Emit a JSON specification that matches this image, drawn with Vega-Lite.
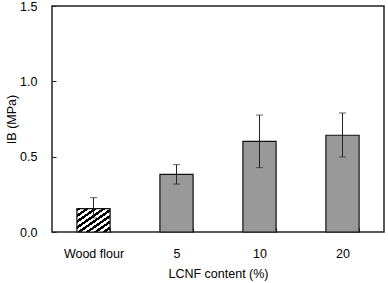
{
  "$schema": "https://vega.github.io/schema/vega-lite/v6.json",
  "autosize": "none",
  "width": 332,
  "height": 226,
  "padding": {"left": 52, "top": 6, "right": 4, "bottom": 51},
  "background": "white",
  "config": {
    "font": "Liberation Sans",
    "view": {"stroke": "#222", "strokeWidth": 1.5},
    "axis": {"labelFont": "Liberation Sans", "titleFont": "Liberation Sans", "labelFontSize": 12.5, "titleFontSize": 12.5, "titleFontWeight": "normal", "labelColor": "#000", "titleColor": "#000", "grid": false, "domain": false, "tickColor": "#222"}
  },
  "data": {"values": [
    {"cat": "Wood flour", "mean": 0.155, "lo": 0.093, "hi": 0.228},
    {"cat": "5", "mean": 0.383, "lo": 0.318, "hi": 0.447},
    {"cat": "10", "mean": 0.602, "lo": 0.427, "hi": 0.776},
    {"cat": "20", "mean": 0.642, "lo": 0.498, "hi": 0.79}
  ]},
  "encoding": {
    "x": {"field": "cat", "type": "nominal", "sort": ["Wood flour", "5", "10", "20"],
      "scale": {"paddingInner": 0.6, "paddingOuter": 0.3},
      "axis": {"title": "LCNF content (%)", "labelAngle": 0, "tickBand": "extent", "tickSize": -4, "labelPadding": 19, "titlePadding": 8}}
  },
  "layer": [
    {
      "transform": [{"filter": "datum.cat != 'Wood flour'"}],
      "mark": {"type": "bar", "fill": "#999999", "stroke": "#111", "strokeWidth": 1.2},
      "encoding": {"y": {"field": "mean", "type": "quantitative", "scale": {"domain": [0, 1.5], "nice": false},
        "axis": {"title": "IB (MPa)", "values": [0, 0.5, 1, 1.5], "format": ".1f", "tickSize": -4, "labelPadding": 19, "titlePadding": 1}}}
    },
    {
      "transform": [{"filter": "datum.cat == 'Wood flour'"}],
      "mark": {"type": "bar", "stroke": "#111", "strokeWidth": 1.2,
        "fill": {"gradient": "linear", "x1": 0, "y1": 0, "x2": 1, "y2": 1, "stops": [
          {"offset": 0, "color": "#000"}, {"offset": 0.0625, "color": "#000"}, {"offset": 0.0625, "color": "#fff"}, {"offset": 0.125, "color": "#fff"},
          {"offset": 0.125, "color": "#000"}, {"offset": 0.1875, "color": "#000"}, {"offset": 0.1875, "color": "#fff"}, {"offset": 0.25, "color": "#fff"},
          {"offset": 0.25, "color": "#000"}, {"offset": 0.3125, "color": "#000"}, {"offset": 0.3125, "color": "#fff"}, {"offset": 0.375, "color": "#fff"},
          {"offset": 0.375, "color": "#000"}, {"offset": 0.4375, "color": "#000"}, {"offset": 0.4375, "color": "#fff"}, {"offset": 0.5, "color": "#fff"},
          {"offset": 0.5, "color": "#000"}, {"offset": 0.5625, "color": "#000"}, {"offset": 0.5625, "color": "#fff"}, {"offset": 0.625, "color": "#fff"},
          {"offset": 0.625, "color": "#000"}, {"offset": 0.6875, "color": "#000"}, {"offset": 0.6875, "color": "#fff"}, {"offset": 0.75, "color": "#fff"},
          {"offset": 0.75, "color": "#000"}, {"offset": 0.8125, "color": "#000"}, {"offset": 0.8125, "color": "#fff"}, {"offset": 0.875, "color": "#fff"},
          {"offset": 0.875, "color": "#000"}, {"offset": 0.9375, "color": "#000"}, {"offset": 0.9375, "color": "#fff"}, {"offset": 1, "color": "#fff"}
        ]}},
      "encoding": {"y": {"field": "mean", "type": "quantitative"}}
    },
    {
      "mark": {"type": "rule", "color": "#222", "strokeWidth": 1},
      "encoding": {"y": {"field": "lo", "type": "quantitative"}, "y2": {"field": "hi"}}
    },
    {
      "mark": {"type": "tick", "color": "#222", "thickness": 1, "size": 7},
      "encoding": {"y": {"field": "hi", "type": "quantitative"}}
    },
    {
      "mark": {"type": "tick", "color": "#222", "thickness": 1, "size": 7},
      "encoding": {"y": {"field": "lo", "type": "quantitative"}}
    }
  ]
}
